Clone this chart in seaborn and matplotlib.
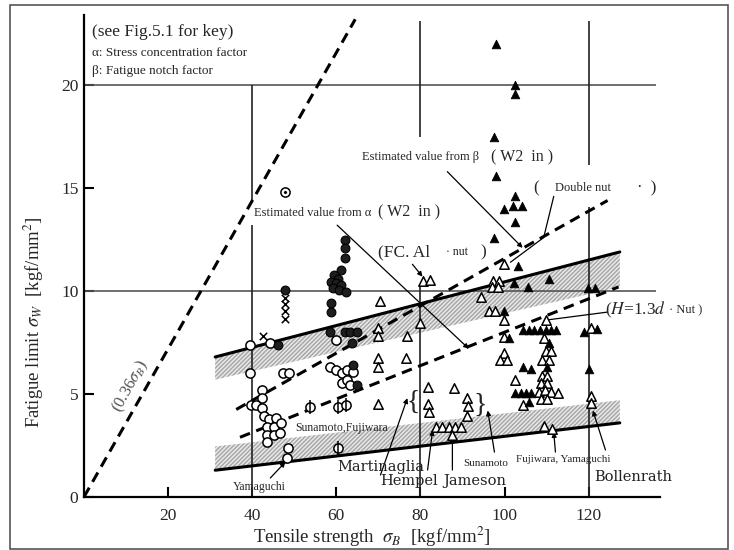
import pandas as pd
import seaborn as sns
import matplotlib.pyplot as plt

# values: x = tensile strength, y = fatigue limit (kgf/mm2)
open_circle_x = [39.5, 44.3, 39.5, 47.4, 48.8, 42.4, 42.4, 39.8, 41.0, 42.4, 42.8, 44.0, 45.6,
                 43.6, 45.2, 46.8, 43.6, 45.2, 46.5, 43.6, 48.6, 48.3,
                 60.0, 58.6, 60.0, 61.4, 62.6, 64.0, 61.4, 62.6, 63.3]
open_circle_y = [7.4, 7.5, 6.0, 6.0, 6.0, 5.2, 4.8, 4.45, 4.45, 4.3, 3.95, 3.8, 3.85,
                 3.4, 3.4, 3.6, 3.0, 3.0, 3.1, 2.65, 2.38, 1.9,
                 7.6, 6.3, 6.17, 6.02, 6.17, 6.07, 5.53, 5.68, 5.44]

filled_circle_x = [47.9, 46.2, 62.0, 62.0, 62.0, 61.0, 59.5, 60.5, 58.8, 60.0, 61.2, 59.2, 60.6,
                   62.2, 58.8, 58.8, 58.6, 62.1, 63.3, 64.8, 63.8, 64.0, 65.0]
filled_circle_y = [10.05, 7.4, 12.5, 12.1, 11.6, 11.0, 10.8, 10.6, 10.45, 10.4, 10.3, 10.15, 10.05,
                   9.95, 9.4, 9.0, 8.0, 8.0, 8.0, 8.0, 7.5, 6.4, 5.45]

cross_x = [47.9, 47.9, 47.9, 47.9, 42.6]
cross_y = [9.65, 9.35, 9.05, 8.65, 7.8]

dot_circle_x = [47.9]
dot_circle_y = [14.8]

phi_x = [53.8, 60.5, 62.3, 60.5]
phi_y = [4.35, 4.35, 4.45, 2.4]

open_tri_x = [80.7, 82.2, 80.0, 76.9, 76.6, 70.3, 70.0, 70.0, 70.0, 70.0, 70.0, 94.3,
              97.3, 98.6, 97.0, 98.4, 99.8, 96.2, 97.7, 99.8, 99.8, 99.8, 99.0, 100.7,
              102.6, 104.5, 87.9, 81.8, 81.8, 82.0, 91.0, 91.4, 91.0,
              83.6, 85.2, 86.7, 88.2, 89.6, 87.6,
              109.8, 109.3, 109.8, 111.0, 109.0, 110.5, 108.8, 110.2, 108.6, 110.2,
              108.2, 109.6, 111.0, 112.6, 108.6, 110.0, 109.3, 111.4, 120.5, 120.5, 120.5]
open_tri_y = [10.5, 10.55, 8.45, 7.8, 6.75, 9.5, 8.2, 7.8, 6.75, 6.3, 4.5, 9.7,
              10.5, 10.5, 10.2, 10.2, 11.3, 9.05, 9.05, 8.6, 7.75, 7.0, 6.65, 6.65,
              5.7, 4.45, 5.3, 5.35, 4.5, 4.15, 4.8, 4.4, 3.95,
              3.4, 3.4, 3.4, 3.4, 3.4, 3.0,
              8.6, 7.7, 7.1, 7.1, 6.65, 6.65, 5.9, 5.9, 5.55, 5.55,
              5.1, 5.2, 5.1, 5.05, 4.75, 4.75, 3.45, 3.3, 4.9, 4.55, 8.2]

filled_tri_x = [97.9, 102.6, 102.6, 97.6, 97.9, 102.6, 99.8, 102.0, 104.2, 102.6, 97.4,
                103.1, 110.5, 102.2, 105.5, 119.8, 121.6, 99.8,
                104.5, 105.7, 106.9, 108.4, 109.8, 111.0, 112.2, 118.8, 121.9,
                101.0, 110.6, 104.5, 106.2, 110.2, 120.0, 102.6, 103.8, 105.0, 106.3, 105.7]
filled_tri_y = [22.0, 20.0, 19.55, 17.5, 15.6, 14.6, 14.0, 14.15, 14.15, 13.35, 12.6,
                11.2, 10.6, 10.4, 10.2, 10.15, 10.15, 9.05,
                8.1, 8.1, 8.1, 8.1, 8.1, 8.1, 8.1, 8.0, 8.15,
                7.7, 7.5, 6.3, 6.2, 6.3, 6.2, 5.05, 5.05, 5.05, 5.05, 4.6]

# bands and estimate lines
band_x = [31.2, 127.4]
upper_line_y = [6.8, 11.9]
upper_band_low = [5.7, 10.2]
lower_line_y = [1.3, 3.6]
lower_band_top = [2.45, 4.7]
alpha_x = [37.1, 127.1]
alpha_y = [2.9, 10.2]
beta_x = [36.2, 124.5]
beta_y = [4.25, 14.4]
ratio_x = [0, 64.5]
ratio_y = [0, 23.2]

sns.set_theme(style="white")
plt.rcParams["font.family"] = ["Liberation Serif", "DejaVu Serif"]
plt.rcParams["mathtext.fontset"] = "stix"

fig = plt.figure(figsize=(7.34, 5.5), dpi=100)
ax = fig.add_axes([0.1144, 0.0964, 0.785, 0.876])

# grid pieces (broken where the scan has text)
ax.hlines([10, 20], 0, 136, color="#555555", lw=1.2, zorder=1)
ax.vlines([40, 40, 80, 80, 120, 120], [0, 14.4, 0, 17.5, 0, 16.1],
          [13.2, 20, 10.3, 23.1, 14.1, 23.1], color="#222222", lw=1.2, zorder=1)

# hatched scatter bands
ax.fill_between(band_x, upper_band_low, upper_line_y, facecolor="#e8e8e8",
                edgecolor="#a5a5a5", hatch="////////", lw=0, zorder=0)
ax.fill_between(band_x, lower_line_y, lower_band_top, facecolor="#e8e8e8",
                edgecolor="#a5a5a5", hatch="////////", lw=0, zorder=0)
ax.plot(band_x, upper_line_y, color="black", lw=2.2, zorder=2)
ax.plot(band_x, lower_line_y, color="black", lw=2.2, zorder=2)

dash = (0, (3.5, 2.2))
ax.plot(alpha_x, alpha_y, color="black", lw=2.2, ls=dash, zorder=2)
ax.plot(beta_x, beta_y, color="black", lw=2.2, ls=dash, zorder=2)
ax.plot(ratio_x, ratio_y, color="black", lw=2.2, ls=dash, zorder=2)

groups = [
    ("open_circle", open_circle_x, open_circle_y),
    ("filled_circle", filled_circle_x, filled_circle_y),
    ("cross", cross_x, cross_y),
    ("dot_circle", dot_circle_x, dot_circle_y),
    ("phi", phi_x, phi_y),
    ("open_tri", open_tri_x, open_tri_y),
    ("filled_tri", filled_tri_x, filled_tri_y),
]
df = pd.concat([pd.DataFrame({"x": gx, "y": gy, "kind": k}) for k, gx, gy in groups],
               ignore_index=True)

def pts(kind):
    return df[df["kind"] == kind]

sns.scatterplot(data=pts("open_circle"), x="x", y="y", marker="o", s=44, color="white",
                edgecolor="black", linewidth=1.1, ax=ax, zorder=5, legend=False)
sns.scatterplot(data=pts("filled_circle"), x="x", y="y", marker="o", s=40, color="#1e1e1e",
                edgecolor="black", linewidth=0.8, ax=ax, zorder=5, legend=False)
sns.scatterplot(data=pts("cross"), x="x", y="y", marker="x", s=28, color="black",
                linewidth=1.1, ax=ax, zorder=5, legend=False)
sns.scatterplot(data=pts("dot_circle"), x="x", y="y", marker="o", s=44, color="white",
                edgecolor="black", linewidth=1.1, ax=ax, zorder=5, legend=False)
sns.scatterplot(data=pts("dot_circle"), x="x", y="y", marker="o", s=6, color="black",
                ax=ax, zorder=6, legend=False)
sns.scatterplot(data=pts("phi"), x="x", y="y", marker="o", s=44, color="white",
                edgecolor="black", linewidth=1.1, ax=ax, zorder=5, legend=False)
sns.scatterplot(data=pts("phi"), x="x", y="y", marker="|", s=110, color="black",
                linewidth=1.1, ax=ax, zorder=6, legend=False)
sns.scatterplot(data=pts("open_tri"), x="x", y="y", marker="^", s=46, color="white",
                edgecolor="black", linewidth=1.1, ax=ax, zorder=5, legend=False)
sns.scatterplot(data=pts("filled_tri"), x="x", y="y", marker="^", s=38, color="black",
                edgecolor="black", linewidth=0.6, ax=ax, zorder=5, legend=False)

# annotations
arrow = dict(arrowstyle="-|>", color="black", lw=0.9, mutation_scale=7,
             shrinkA=0, shrinkB=0)
ax.annotate("", xy=(91.5, 7.2), xytext=(60.2, 13.2), arrowprops=arrow, zorder=3)
ax.annotate("", xy=(104.3, 12.1), xytext=(86.4, 15.8), arrowprops=arrow, zorder=3)
ax.plot([111.7, 109.3, 101.4], [14.6, 12.6, 11.4], color="black", lw=0.9, zorder=3)
ax.annotate("", xy=(80.5, 10.7), xytext=(78.1, 11.3), arrowprops=arrow, zorder=3)
ax.plot([124.5, 110.2], [8.98, 8.6], color="black", lw=0.9, zorder=3)
for start, end in [((70.5, 1.07), (76.9, 4.8)), ((81.7, 1.31), (82.9, 3.25)),
                   ((87.6, 1.31), (87.6, 2.9)), ((97.6, 2.18), (96.0, 4.2)),
                   ((112.1, 2.18), (111.7, 3.15)), ((124.0, 2.28), (121.0, 4.2)),
                   ((44.3, 0.92), (47.9, 1.7))]:
    ax.annotate("", xy=end, xytext=start, arrowprops=arrow, zorder=3)

ax.text(1.9, 22.6, "(see Fig.5.1 for key)", fontsize=12.5, va="center")
ax.text(1.9, 21.55, "α: Stress concentration factor", fontsize=9.5, va="center")
ax.text(1.9, 20.7, "β: Fatigue notch factor", fontsize=9.5, va="center")

ax.text(66.2, 16.5, "Estimated value from β", fontsize=9, va="center")
ax.text(96.7, 16.5, "( W2  in )", fontsize=11.5, va="center")
ax.text(40.4, 13.8, "Estimated value from α", fontsize=9, va="center")
ax.text(70.0, 13.8, "( W2  in )", fontsize=11.5, va="center")
ax.text(69.8, 11.9, "(FC. Al", fontsize=12.5, va="center")
ax.text(86.0, 11.9, "· nut", fontsize=8.5, va="center")
ax.text(94.3, 11.9, ")", fontsize=12.5, va="center")
ax.text(106.9, 15.0, "(", fontsize=12, va="center")
ax.text(112.1, 15.0, "Double nut", fontsize=9, va="center")
ax.text(131.5, 15.0, "·  )", fontsize=12, va="center")
ax.text(124.0, 9.08, r"($H$=1.3$d$", fontsize=12.5, va="center")
ax.text(139.0, 9.08, "· Nut )", fontsize=9, va="center")
ax.text(11.0, 5.4, r"(0.36$\sigma_B$)", fontsize=12, color="#555555", rotation=61,
        ha="center", va="center")

ax.text(41.7, 0.49, "Yamaguchi", fontsize=8.5, ha="center", va="center")
ax.text(61.2, 3.35, "Sunamoto,Fujiwara", fontsize=8.5, ha="center", va="center")
ax.text(95.5, 1.65, "Sunamoto", fontsize=8, ha="center", va="center")
ax.text(114.0, 1.84, "Fujiwara, Yamaguchi", fontsize=8, ha="center", va="center")
for label, lx, ly in [("Martinaglia", 70.6, 1.46), ("Hempel", 77.4, 0.78),
                      ("Jameson", 92.9, 0.78), ("Bollenrath", 130.7, 0.97)]:
    ax.text(lx, ly, label, fontsize=10.5, family="DejaVu Serif", color="#222222",
            ha="center", va="center")
ax.text(78.3, 4.6, "{", fontsize=20, ha="center", va="center")
ax.text(94.3, 4.47, "}", fontsize=20, ha="center", va="center")

ax.set_xlim(0, 137)
ax.set_ylim(0, 23.4)
ax.set_xticks([20, 40, 60, 80, 100, 120])
ax.set_yticks([0, 5, 10, 15, 20])
ax.tick_params(direction="in", length=7, width=1.5, color="black", labelsize=12.5,
               left=True, bottom=True)
ax.tick_params(axis="x", pad=8)
ax.tick_params(axis="y", pad=4)
sns.despine(ax=ax)
for side in ["left", "bottom"]:
    ax.spines[side].set_color("black")
    ax.spines[side].set_linewidth(1.6)

ax.set_xlabel(r"Tensile strength  $\sigma_B$  [kgf/mm$^2$]", fontsize=13.5)
ax.set_ylabel(r"Fatigue limit $\sigma_W$  [kgf/mm$^2$]", fontsize=13.5)
ax.xaxis.set_label_coords(0.5, -0.058)
ax.yaxis.set_label_coords(-0.066, 0.363)

fig.add_artist(plt.Rectangle((10 / 734, 1 / 550), 718 / 734, 544 / 550,
                             transform=fig.transFigure, fill=False,
                             edgecolor="#555555", lw=1.2))

plt.savefig("out.png", dpi=100)
